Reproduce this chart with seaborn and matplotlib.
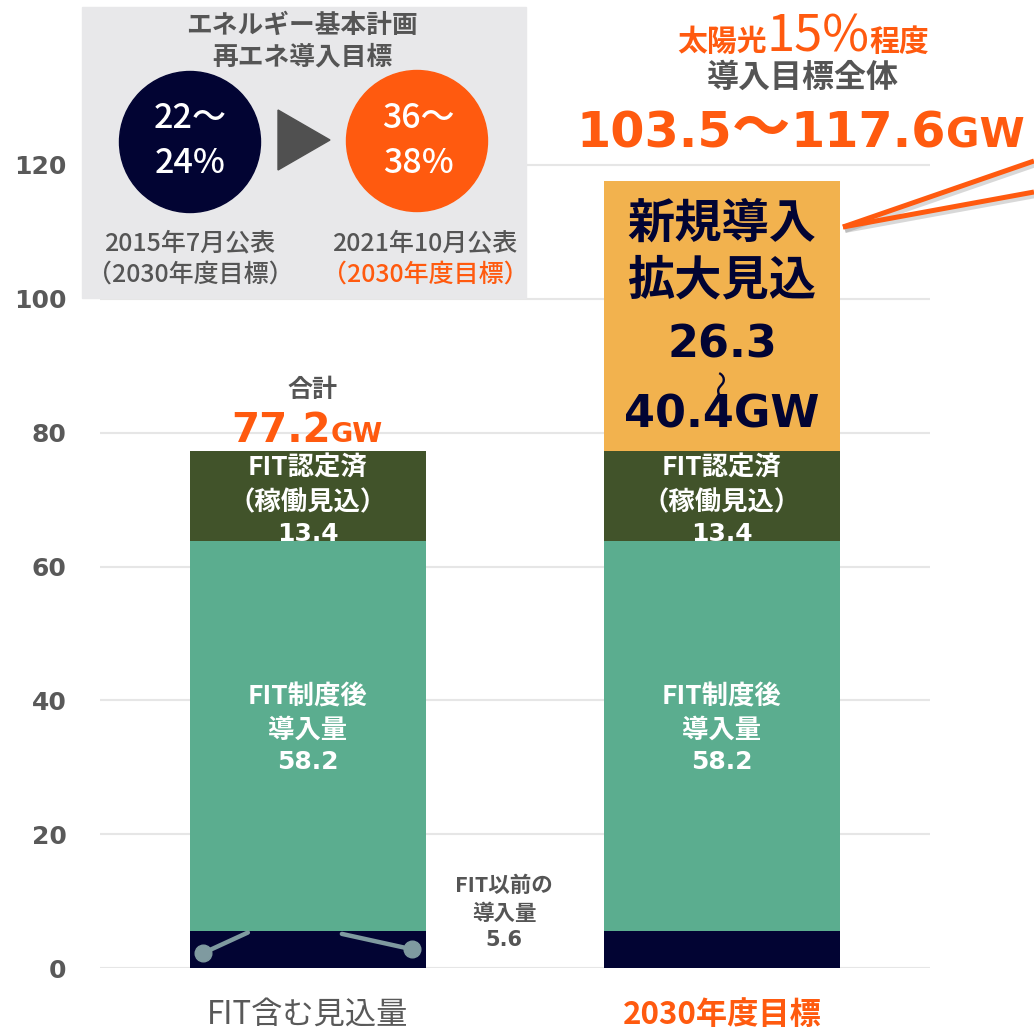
import numpy as np
import pandas as pd
import seaborn as sns
import matplotlib.pyplot as plt
import matplotlib.patheffects as pe
from matplotlib.patches import Rectangle, Circle, Polygon
from matplotlib.lines import Line2D

# ============================================================
# DATA
# ============================================================
categories = ["FIT含む見込量", "2030年度目標"]
pre_fit = [5.6, 5.6]          # FIT以前の導入量
post_fit = [58.2, 58.2]       # FIT制度後導入量
certified = [13.4, 13.4]      # FIT認定済(稼働見込)
new_expansion = [0.0, 40.4]   # 新規導入拡大見込 (upper end)
y_ticks = [0, 20, 40, 60, 80, 100, 120]

old_target = "22〜\n24%"
new_target = "36〜\n38%"

# ============================================================
# STYLE
# ============================================================
sns.set_style("white")
plt.rcParams["font.family"] = ["DejaVu Sans", "Noto Sans CJK JP"]
JP = ["Noto Sans CJK JP", "DejaVu Sans"]
NUM = ["DejaVu Sans", "Noto Sans CJK JP"]

NAVY = "#020433"
GREEN = "#5BAD8F"
OLIVE = "#41532A"
GOLD = "#F2B24E"
ORANGE = "#FF5A0F"
GREY = "#595959"

W = H = 1034
fig = plt.figure(figsize=(W / 100, H / 100), dpi=100)
ax = fig.add_axes([100 / W, 66 / H, 830 / W, 968 / H])

# ============================================================
# STACKED BARS (draw tallest layer first, then overlay)
# ============================================================
layers = [("new", new_expansion, GOLD), ("cert", certified, OLIVE),
          ("post", post_fit, GREEN), ("pre", pre_fit, NAVY)]
stack = np.cumsum([pre_fit, post_fit, certified, new_expansion], axis=0)[::-1]

for (name, seg, color), top in zip(layers, stack):
    df = pd.DataFrame({"cat": categories, "top": top, "seg": seg})
    df = df[df["seg"] > 0]
    sns.barplot(data=df, x="cat", y="top", order=categories, color=color,
                width=0.57, saturation=1, linewidth=0, ax=ax)

# decorative grey connectors on the left bar's bottom segment
ax.plot([-0.254, -0.145], [2.2, 5.3], color="#7F9AA0", lw=3.2, solid_capstyle="round")
ax.plot([0.082, 0.251], [5.1, 2.8], color="#7F9AA0", lw=3.2, solid_capstyle="round")
ax.plot([-0.254, 0.251], [2.2, 2.8], "o", color="#7F9AA0", ms=12, ls="none")

ax.set_xlim(-0.502, 1.502)
ax.set_ylim(0, 968 / ((968 - 165) / 120))
ax.set_yticks(y_ticks)
ax.yaxis.grid(True, color="#e6e6e6", lw=1.5)
ax.set_axisbelow(True)
ax.axhline(0, color="#e2ecd9", lw=2, zorder=0.5)
sns.despine(ax=ax, left=True, bottom=True)
ax.set_xlabel("")
ax.set_ylabel("")

ax.tick_params(axis="y", length=0, pad=24, labelsize=18, labelcolor=GREY)
for lab in ax.get_yticklabels():
    lab.set_fontweight("bold")

ax.tick_params(axis="x", length=0, pad=22)
ax.set_xticks([0, 1])
ax.set_xticklabels(categories)
xl = ax.get_xticklabels()
xl[0].set(family=JP, fontsize=22.5, color=GREY, fontweight="normal")
xl[1].set(family=JP, fontsize=22.5, color=ORANGE, fontweight="bold")


# ============================================================
# TEXT HELPERS (pixel positions on the 1034 px canvas)
# ============================================================
def ftext(x, y, s, size, color, weight="bold", family=JP, ha="center", va="baseline", **kw):
    return fig.text(x / W, 1 - y / H, s, fontsize=size, color=color,
                    fontweight=weight, family=family, ha=ha, va=va, **kw)


def chain(prev, y, s, size, color, weight="bold", family=NUM):
    return ax.annotate(s, xy=(1, 1 - y / H), xycoords=(prev, "figure fraction"),
                       ha="left", va="baseline", fontsize=size, color=color,
                       fontweight=weight, family=family, annotation_clip=False)


# ============================================================
# TOP-LEFT INSET BOX
# ============================================================
fig.add_artist(Rectangle((82 / W, 1 - 298 / H), 444 / W, 291 / H,
                         transform=fig.transFigure, color="#e8e8ea", zorder=2))
fig.add_artist(Circle((190 / W, 1 - 142 / H), 70.5 / W,
                      transform=fig.transFigure, color=NAVY, zorder=2.5))
fig.add_artist(Circle((417 / W, 1 - 141 / H), 70.5 / W,
                      transform=fig.transFigure, color=ORANGE, zorder=2.5))
fig.add_artist(Polygon([(278 / W, 1 - 110 / H), (330 / W, 1 - 140 / H), (278 / W, 1 - 170 / H)],
                       closed=True, transform=fig.transFigure, color="#505050", zorder=2.5))

ftext(302, 33, "エネルギー基本計画", 18.5, "#555555")
ftext(302, 64, "再エネ導入目標", 18.5, "#555555")

for cx, txt in [(190, old_target), (418, new_target)]:
    l1, l2 = txt.split("\n")
    ftext(cx, 128, l1, 24.5, "white", weight="medium")
    ftext(cx, 173, l2, 24.5, "white", weight="medium")

ftext(190, 250, "2015年7月公表", 18, "#555555", weight="medium")
ftext(190, 282, "（2030年度目標）", 18, "#555555", weight="medium")
ftext(425, 250, "2021年10月公表", 18, "#555555", weight="medium")
ftext(425, 282, "（2030年度目標）", 18, ORANGE, weight="medium")

# ============================================================
# TOP-RIGHT TARGET ANNOTATION
# ============================================================
t = ftext(677, 51, "太陽光", 21.5, ORANGE, ha="left")
t = chain(t, 51, "15%", 36.5, ORANGE, weight="normal", family=JP)
chain(t, 51, "程度", 21.5, ORANGE, family=JP)
ftext(803, 87, "導入目標全体", 23, "#555555")

t = ftext(576, 147, "103.5", 35.5, ORANGE, family=NUM, ha="left")
t = chain(t, 147, "〜", 42, ORANGE, family=JP)
t = chain(t, 147, "117.6", 35.5, ORANGE)
chain(t, 147, "GW", 29.5, ORANGE)

shadow = [pe.SimpleLineShadow(offset=(1.5, -2.5), shadow_color="gray", alpha=0.3), pe.Normal()]
for y_end in (161, 192):
    fig.add_artist(Line2D([843 / W, 1034 / W], [1 - 227 / H, 1 - y_end / H],
                          transform=fig.transFigure, color=ORANGE, lw=3.6,
                          solid_capstyle="butt", path_effects=shadow, zorder=4))

# ============================================================
# BAR LABELS
# ============================================================
# 2030 target: new expansion block
ftext(722, 238, "新規導入", 34, NAVY)
ftext(722, 294, "拡大見込", 34, NAVY)
ftext(722, 357, "26.3", 32, NAVY, family=NUM)
ftext(724, 383, "〜", 21, NAVY, weight="normal", va="center", rotation=90)
ftext(722, 427, "40.4GW", 32, NAVY, family=NUM)

# total for left bar
ftext(312, 397, "合計", 18, "#555555")
t = ftext(231, 442, "77.2", 29, ORANGE, family=NUM, ha="left")
chain(t, 442, "GW", 19.5, ORANGE)

for cx in (308, 722):
    ftext(cx, 476, "FIT認定済", 19, "white")
    ftext(cx, 510, "（稼働見込）", 19, "white")
    ftext(cx, 541, f"{certified[0]}", 18, "white", family=NUM)
    ftext(cx, 705, "FIT制度後", 19, "white")
    ftext(cx, 738, "導入量", 19, "white")
    ftext(cx, 769, f"{post_fit[0]}", 18, "white", family=NUM)

ftext(504, 892, "FIT以前の", 15.5, "#555555")
ftext(504, 920, "導入量", 15.5, "#555555")
ftext(504, 946, f"{pre_fit[0]}", 15, "#555555", family=NUM)

fig.savefig("out.png", dpi=100)
